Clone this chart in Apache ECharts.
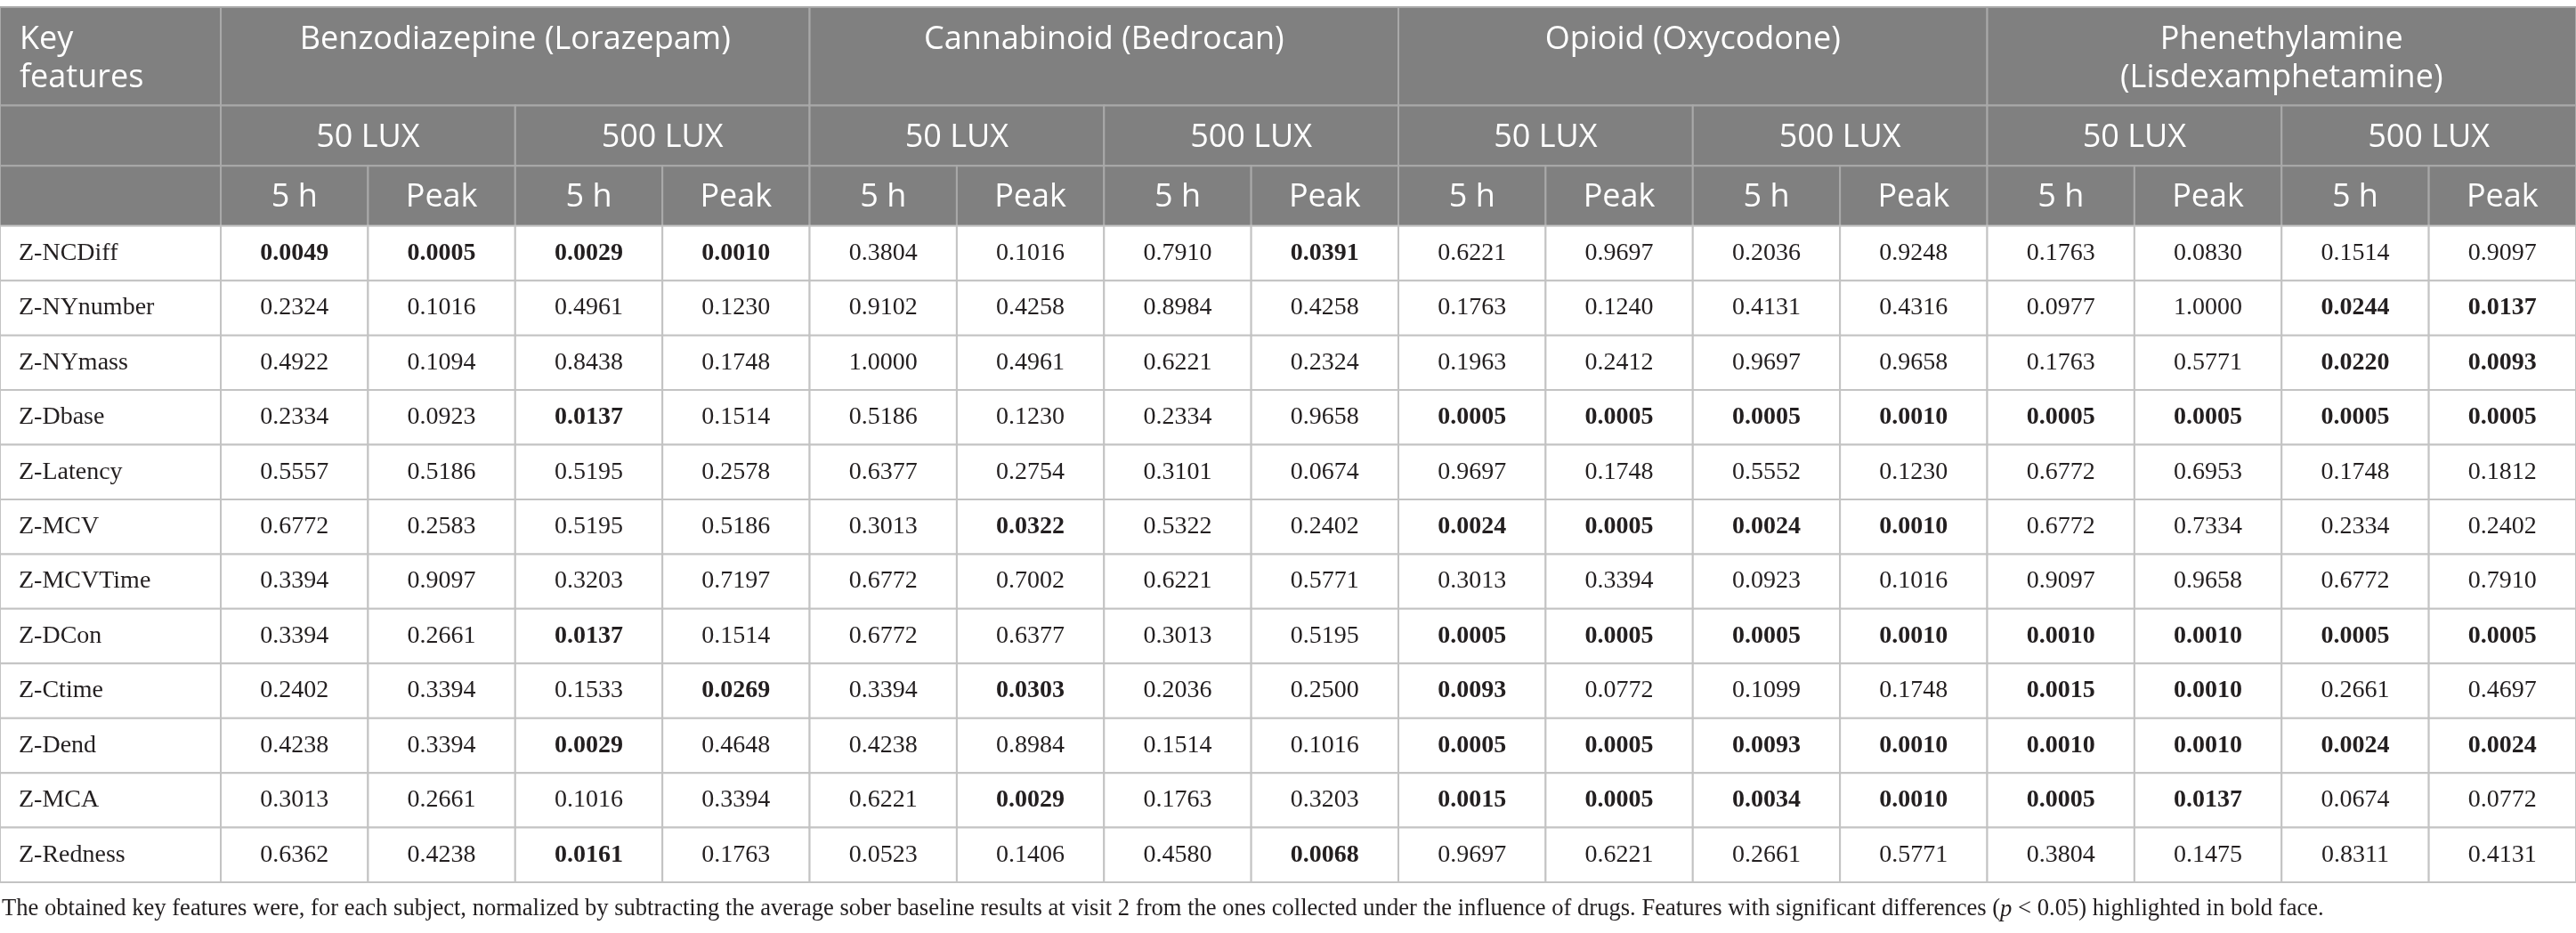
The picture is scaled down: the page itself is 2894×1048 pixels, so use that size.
<!DOCTYPE html>
<html>
<head>
<meta charset="utf-8">
<script src="https://cdn.jsdelivr.net/npm/echarts@6.0.0/dist/echarts.min.js"></script>
<style>
  html, body { margin: 0; padding: 0; background: #ffffff; }
  #chart { width: 2894px; height: 1048px; }
</style>
</head>
<body>
<div id="chart"></div>
<script>
// 表頭
const drugs = ['Benzodiazepine (Lorazepam)', 'Cannabinoid (Bedrocan)', 'Opioid (Oxycodone)', 'Phenethylamine\n(Lisdexamphetamine)']
const luxLevels = ['50 LUX', '500 LUX']
const timePoints = ['5 h', 'Peak']
const features = ['Z-NCDiff', 'Z-NYnumber', 'Z-NYmass', 'Z-Dbase', 'Z-Latency', 'Z-MCV',
  'Z-MCVTime', 'Z-DCon', 'Z-Ctime', 'Z-Dend', 'Z-MCA', 'Z-Redness']

// 每列: [50 LUX 5 h, 50 LUX Peak, 500 LUX 5 h, 500 LUX Peak]
const lorazepam = [
  [0.0049, 0.0005, 0.0029, 0.0010],
  [0.2324, 0.1016, 0.4961, 0.1230],
  [0.4922, 0.1094, 0.8438, 0.1748],
  [0.2334, 0.0923, 0.0137, 0.1514],
  [0.5557, 0.5186, 0.5195, 0.2578],
  [0.6772, 0.2583, 0.5195, 0.5186],
  [0.3394, 0.9097, 0.3203, 0.7197],
  [0.3394, 0.2661, 0.0137, 0.1514],
  [0.2402, 0.3394, 0.1533, 0.0269],
  [0.4238, 0.3394, 0.0029, 0.4648],
  [0.3013, 0.2661, 0.1016, 0.3394],
  [0.6362, 0.4238, 0.0161, 0.1763]
]
const bedrocan = [
  [0.3804, 0.1016, 0.7910, 0.0391],
  [0.9102, 0.4258, 0.8984, 0.4258],
  [1.0000, 0.4961, 0.6221, 0.2324],
  [0.5186, 0.1230, 0.2334, 0.9658],
  [0.6377, 0.2754, 0.3101, 0.0674],
  [0.3013, 0.0322, 0.5322, 0.2402],
  [0.6772, 0.7002, 0.6221, 0.5771],
  [0.6772, 0.6377, 0.3013, 0.5195],
  [0.3394, 0.0303, 0.2036, 0.2500],
  [0.4238, 0.8984, 0.1514, 0.1016],
  [0.6221, 0.0029, 0.1763, 0.3203],
  [0.0523, 0.1406, 0.4580, 0.0068]
]
const oxycodone = [
  [0.6221, 0.9697, 0.2036, 0.9248],
  [0.1763, 0.1240, 0.4131, 0.4316],
  [0.1963, 0.2412, 0.9697, 0.9658],
  [0.0005, 0.0005, 0.0005, 0.0010],
  [0.9697, 0.1748, 0.5552, 0.1230],
  [0.0024, 0.0005, 0.0024, 0.0010],
  [0.3013, 0.3394, 0.0923, 0.1016],
  [0.0005, 0.0005, 0.0005, 0.0010],
  [0.0093, 0.0772, 0.1099, 0.1748],
  [0.0005, 0.0005, 0.0093, 0.0010],
  [0.0015, 0.0005, 0.0034, 0.0010],
  [0.9697, 0.6221, 0.2661, 0.5771]
]
const lisdexamphetamine = [
  [0.1763, 0.0830, 0.1514, 0.9097],
  [0.0977, 1.0000, 0.0244, 0.0137],
  [0.1763, 0.5771, 0.0220, 0.0093],
  [0.0005, 0.0005, 0.0005, 0.0005],
  [0.6772, 0.6953, 0.1748, 0.1812],
  [0.6772, 0.7334, 0.2334, 0.2402],
  [0.9097, 0.9658, 0.6772, 0.7910],
  [0.0010, 0.0010, 0.0005, 0.0005],
  [0.0015, 0.0010, 0.2661, 0.4697],
  [0.0010, 0.0010, 0.0024, 0.0024],
  [0.0005, 0.0137, 0.0674, 0.0772],
  [0.3804, 0.1475, 0.8311, 0.4131]
]
const drugValues = [lorazepam, bedrocan, oxycodone, lisdexamphetamine]
const SIGNIFICANCE = 0.05

// 版面 (座標軸單位)
const KEY_W = 1.5
const HEADER_EDGES = [0, 1.8, 2.9, 4]
const span = luxLevels.length * timePoints.length
const nCols = drugs.length * span
const bodyTop = HEADER_EDGES[HEADER_EDGES.length - 1]

const SANS = '"Open Sans", "Noto Sans", sans-serif'
const SERIF = '"Liberation Serif", "DejaVu Serif", serif'

// 表頭儲存格
const headerCells = [
  { x0: 0, x1: KEY_W, y0: HEADER_EDGES[0], y1: HEADER_EDGES[1], text: 'Key\nfeatures', align: 'left' },
  { x0: 0, x1: KEY_W, y0: HEADER_EDGES[1], y1: HEADER_EDGES[2], text: '' },
  { x0: 0, x1: KEY_W, y0: HEADER_EDGES[2], y1: HEADER_EDGES[3], text: '' }
]
drugs.forEach((drug, i) => {
  const gx = KEY_W + i * span
  headerCells.push({ x0: gx, x1: gx + span, y0: HEADER_EDGES[0], y1: HEADER_EDGES[1], text: drug })
  luxLevels.forEach((lux, j) => {
    const lx = gx + j * timePoints.length
    headerCells.push({ x0: lx, x1: lx + timePoints.length, y0: HEADER_EDGES[1], y1: HEADER_EDGES[2], text: lux })
    timePoints.forEach((t, k) => {
      headerCells.push({ x0: lx + k, x1: lx + k + 1, y0: HEADER_EDGES[2], y1: HEADER_EDGES[3], text: t })
    })
  })
})

// 數值儲存格
const bodyCells = []
drugValues.forEach((rows, d) => {
  rows.forEach((vals, r) => {
    vals.forEach((v, c) => {
      bodyCells.push([KEY_W + d * span + c, bodyTop + r, v])
    })
  })
})
const labelCells = features.map((f, r) => [0, bodyTop + r])

const chart = echarts.init(document.getElementById('chart'))

const option = {
  animation: false,
  backgroundColor: '#ffffff',
  title: {
    text: 'The obtained key features were, for each subject, normalized by subtracting the average sober baseline results at visit 2 from the ones collected under the influence of drugs. Features with significant differences ({i|p} < 0.05) highlighted in bold face.',
    left: 2,
    top: 1008,
    padding: 0,
    textStyle: {
      fontFamily: SERIF,
      fontSize: 26.6,
      fontWeight: 'normal',
      color: '#231f20',
      rich: {
        i: { fontFamily: SERIF, fontSize: 26.6, fontStyle: 'italic', color: '#231f20' }
      }
    }
  },
  grid: { left: 0, right: 0, top: 8, bottom: 57 },
  xAxis: { type: 'value', min: 0, max: KEY_W + nCols, show: false },
  yAxis: { type: 'value', min: 0, max: bodyTop + features.length, inverse: true, show: false },
  series: [
    {
      type: 'custom',
      name: 'header',
      data: headerCells.map(c => [c.x0, c.x1, c.y0, c.y1]),
      renderItem: (params, api) => {
        const cell = headerCells[params.dataIndex]
        const p0 = api.coord([api.value(0), api.value(2)])
        const p1 = api.coord([api.value(1), api.value(3)])
        const firstRow = api.value(2) === HEADER_EDGES[0]
        const left = cell.align === 'left'
        return {
          type: 'group',
          children: [
            {
              type: 'rect',
              shape: { x: p0[0], y: p0[1], width: p1[0] - p0[0], height: p1[1] - p0[1] },
              style: { fill: '#808080', stroke: '#a9a9a9', lineWidth: 2 }
            },
            {
              type: 'text',
              x: left ? p0[0] + 22 : (p0[0] + p1[0]) / 2,
              y: firstRow ? p0[1] + 15 : (p0[1] + p1[1]) / 2 + 2,
              style: {
                text: cell.text,
                fill: '#ffffff',
                fontFamily: SANS,
                fontSize: 36,
                lineHeight: 43,
                align: left ? 'left' : 'center',
                verticalAlign: firstRow ? 'top' : 'middle'
              }
            }
          ]
        }
      }
    },
    {
      type: 'custom',
      name: 'features',
      data: labelCells,
      renderItem: (params, api) => {
        const p0 = api.coord([api.value(0), api.value(1)])
        const p1 = api.coord([KEY_W, api.value(1) + 1])
        return {
          type: 'group',
          children: [
            {
              type: 'rect',
              shape: { x: p0[0], y: p0[1], width: p1[0] - p0[0], height: p1[1] - p0[1] },
              style: { fill: '#ffffff', stroke: '#c3c3c3', lineWidth: 2 }
            },
            {
              type: 'text',
              x: p0[0] + 21,
              y: (p0[1] + p1[1]) / 2,
              style: {
                text: features[params.dataIndex],
                fill: '#231f20',
                fontFamily: SERIF,
                fontSize: 28,
                align: 'left',
                verticalAlign: 'middle'
              }
            }
          ]
        }
      }
    },
    {
      type: 'custom',
      name: 'values',
      data: bodyCells,
      renderItem: (params, api) => {
        const p0 = api.coord([api.value(0), api.value(1)])
        const p1 = api.coord([api.value(0) + 1, api.value(1) + 1])
        const v = api.value(2)
        return {
          type: 'group',
          children: [
            {
              type: 'rect',
              shape: { x: p0[0], y: p0[1], width: p1[0] - p0[0], height: p1[1] - p0[1] },
              style: { fill: '#ffffff', stroke: '#c3c3c3', lineWidth: 2 }
            },
            {
              type: 'text',
              x: (p0[0] + p1[0]) / 2,
              y: (p0[1] + p1[1]) / 2,
              style: {
                text: v.toFixed(4),
                fill: '#231f20',
                fontFamily: SERIF,
                fontSize: 28,
                fontWeight: v < SIGNIFICANCE ? 'bold' : 'normal',
                align: 'center',
                verticalAlign: 'middle'
              }
            }
          ]
        }
      }
    }
  ]
}

chart.setOption(option)
</script>
</body>
</html>
